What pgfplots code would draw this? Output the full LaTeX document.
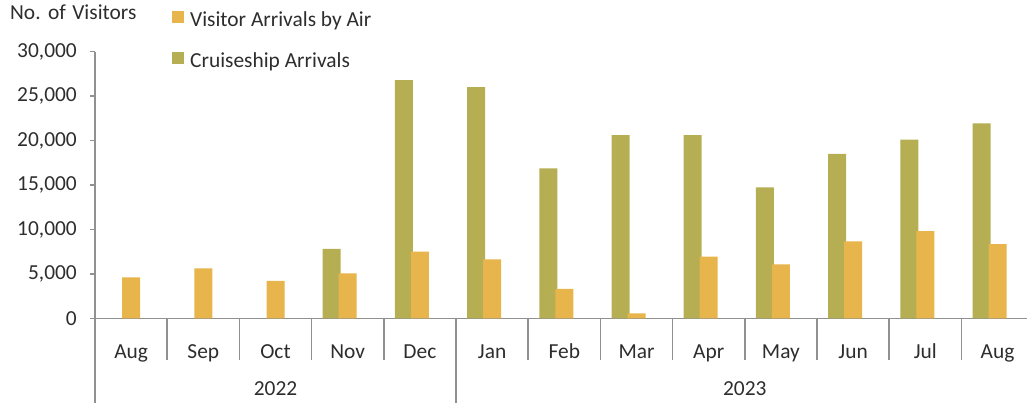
\documentclass[border=0pt]{standalone}
\usepackage{fontspec}
\setmainfont{Carlito}
\usepackage{pgfplots}
\pgfplotsset{compat=1.18}
\definecolor{cruise}{RGB}{181,174,82}
\definecolor{air}{RGB}{232,180,76}
\definecolor{axgray}{RGB}{145,145,145}
\definecolor{txt}{RGB}{45,45,45}
\begin{document}
\begin{tikzpicture}[x=1pt,y=1pt,font=\fontsize{21.4}{25}\selectfont]
\path[use as bounding box] (0,0) rectangle (1027,403);
\begin{axis}[
  at={(95pt,84.7pt)}, anchor=south west,
  scale only axis, width=938.6pt, height=266.6pt,
  xmin=-0.5, xmax=12.5, ymin=0, ymax=30000,
  clip=false,
  scaled y ticks=false,
  axis lines=left,
  axis line style={-, draw=axgray, line width=1.5pt},
  tick align=outside, major tick length=5pt,
  ytick={0,5000,10000,15000,20000,25000,30000},
  yticklabels={0,{5,000},{10,000},{15,000},{20,000},{25,000},{30,000}},
  ytick style={draw=axgray, line width=1.5pt},
  yticklabel style={anchor=east, inner sep=0pt, text=txt, xshift=-13pt},
  xtick={0,1,2,3,4,5,6,7,8,9,10,11,12},
  xticklabels={Aug,Sep,Oct,Nov,Dec,Jan,Feb,Mar,Apr,May,Jun,Jul,Aug},
  xtick style={draw=none},
  xticklabel style={anchor=base, inner sep=0pt, text=txt, yshift=-35.7pt},
  ylabel={No.\hspace{0.35em}of\hspace{0.3em}Visitors},
  every axis y label/.style={at={(axis description cs:-0.0906,1.119)}, anchor=base west, inner sep=0pt, text=txt},
  legend style={draw=none, fill=none, at={(axis description cs:0.082,1.154)}, anchor=north west, inner sep=0pt,
    nodes={inner sep=0pt, text height=15pt, text depth=5pt, text=txt}, row sep=20pt, column sep=6pt},
  legend cell align=left,
  reverse legend,
]
\addplot[ybar, bar width=18pt, bar shift=-16pt, fill=cruise, draw=none,
  legend image code/.code={\fill[cruise] (0pt,-1pt) rectangle (12pt,11pt);}]
  coordinates {(3,7800) (4,26800) (5,26000) (6,16880) (7,20620) (8,20620) (9,14740) (10,18490) (11,20100) (12,21940)};
\addlegendentry{Cruiseship Arrivals}
\addplot[ybar, bar width=18pt, bar shift=0pt, fill=air, draw=none,
  legend image code/.code={\fill[air] (0pt,-1pt) rectangle (12pt,11pt);}]
  coordinates {(0,4610) (1,5630) (2,4200) (3,5060) (4,7500) (5,6640) (6,3300) (7,560) (8,6930) (9,6080) (10,8660) (11,9820) (12,8360)};
\addlegendentry{Visitor Arrivals by Air}
\pgfplotsinvokeforeach{-0.5,0.5,1.5,2.5,3.5,5.5,6.5,7.5,8.5,9.5,10.5,11.5}{
  \draw[axgray, line width=1.5pt] (axis cs:#1,0) -- ++(0pt,-42pt);
}
\pgfplotsinvokeforeach{-0.5,4.5,12.5}{
  \draw[axgray, line width=1.5pt] (axis cs:#1,0) -- ++(0pt,-90pt);
}
\node[anchor=base, inner sep=0pt, text=txt, yshift=-77.4pt] at (axis cs:2,0) {2022};
\node[anchor=base, inner sep=0pt, text=txt, yshift=-77.4pt] at (axis cs:8.5,0) {2023};
\end{axis}
\end{tikzpicture}
\end{document}
